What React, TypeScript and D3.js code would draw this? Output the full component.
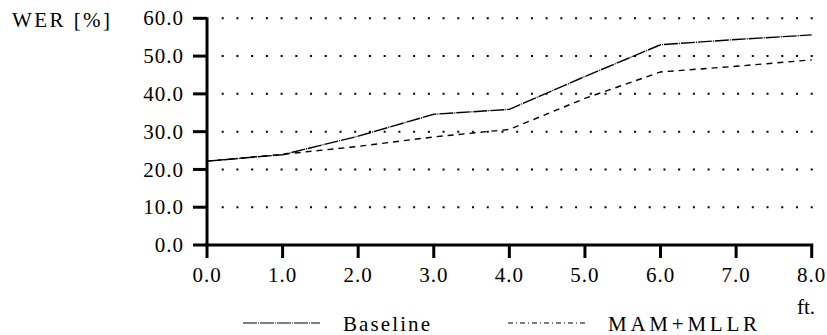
import React from 'react';
import * as d3 from 'd3';

const distances = [0, 1, 2, 3, 4, 5, 6, 7, 8];
const baseline = [22.2, 23.9, 28.8, 34.6, 35.9, 44.6, 53.0, 54.4, 55.6];
const mamMllr = [22.2, 24.0, 26.1, 28.6, 30.6, 38.8, 45.8, 47.3, 49.0];
const yTicks = [0, 10, 20, 30, 40, 50, 60];
const gridTicks = [10, 20, 30, 40, 50, 60];

const FONT = "'Liberation Serif', 'Times New Roman', serif";

const x = d3.scaleLinear().domain([0, 8]).range([207, 811.7]);
const y = d3.scaleLinear().domain([0, 60]).range([245, 18.3]);
const fmt = d3.format('.1f');

const line = d3.line<number>()
  .x((_, i) => x(distances[i]))
  .y(d => y(d));

const legend = [
  { name: 'Baseline', lx: 243, lw: 77, tx: 343, tw: 87, dash: '14,1,1,1', data: baseline },
  { name: 'MAM+MLLR', lx: 508, lw: 77, tx: 608, tw: 149, dash: '5,3,1,3', data: mamMllr }
];

const T = (props: any) => (
  <text fontFamily={FONT} fontSize={21} fill="#000"
    style={{ fontFamily: FONT, fontSize: '21px' }} {...props} />
);

const App = () => (
  <svg width={827} height={335}
    style={{ position: 'absolute', left: 0, top: 0, background: '#fff' }}>
    {/* dotted grid */}
    {gridTicks.map(t => (
      <line key={t} x1={221.7} x2={813} y1={y(t)} y2={y(t)}
        stroke="#000" strokeWidth={2} strokeDasharray="2,12.725" />
    ))}

    {/* y axis */}
    <line x1={x(0)} x2={x(0)} y1={y(60) - 1} y2={y(0) + 1.5} stroke="#000" strokeWidth={3} />
    {yTicks.map(t => (
      <g key={t} transform={`translate(${x(0)},${y(t)})`}>
        <line x1={-14} x2={0} stroke="#000" strokeWidth={3} />
        <T x={-23} dy="0.34em" textAnchor="end" letterSpacing={1}>{fmt(t)}</T>
      </g>
    ))}

    {/* x axis */}
    <line x1={x(0) - 1.5} x2={x(8) + 1.5} y1={y(0)} y2={y(0)} stroke="#000" strokeWidth={3} />
    {distances.map(t => (
      <g key={t} transform={`translate(${x(t)},${y(0)})`}>
        <line y1={0} y2={13} stroke="#000" strokeWidth={3} />
        <T y={37} textAnchor="middle" letterSpacing={1}>{fmt(t)}</T>
      </g>
    ))}

    {/* series */}
    {legend.map(l => (
      <path key={l.name} d={line(l.data) || ''} fill="none" stroke="#000"
        strokeWidth={1.4} strokeDasharray={l.name === 'Baseline' ? '14,1,1,1' : '6,5'} />
    ))}

    {/* labels */}
    <T x={12} y={27} textLength={98} lengthAdjust="spacing">WER [%]</T>
    <T x={797} y={314}>ft.</T>

    {/* legend */}
    {legend.map(l => (
      <g key={l.name}>
        <line x1={l.lx} x2={l.lx + l.lw} y1={323} y2={323} stroke="#000"
          strokeWidth={1.2} strokeDasharray={l.dash} />
        <T x={l.tx} y={331} textLength={l.tw} lengthAdjust="spacing">{l.name}</T>
      </g>
    ))}
  </svg>
);

export default App;
